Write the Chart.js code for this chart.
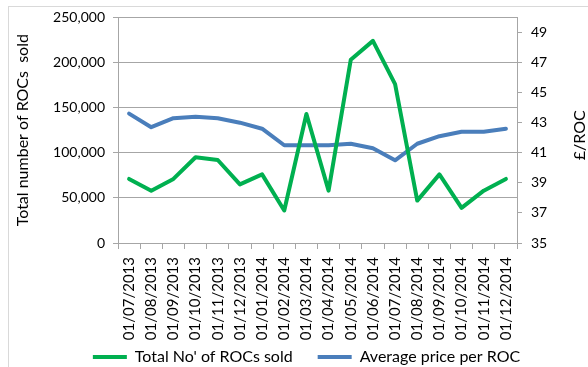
<!DOCTYPE html>
<html>
<head>
<meta charset="utf-8">
<script src="https://cdn.jsdelivr.net/npm/chart.js@4/dist/chart.umd.min.js"></script>
<style>
  html, body { margin: 0; padding: 0; background: #fff; }
  #wrap { width: 588px; height: 367px; position: relative; }
</style>
</head>
<body>
<div id="wrap"><canvas id="c" width="588" height="367"></canvas></div>
<script>
// Monthly ROC sales and average price, Jul 2013 – Dec 2014
const months = ['01/07/2013', '01/08/2013', '01/09/2013', '01/10/2013', '01/11/2013', '01/12/2013',
                '01/01/2014', '01/02/2014', '01/03/2014', '01/04/2014', '01/05/2014', '01/06/2014',
                '01/07/2014', '01/08/2014', '01/09/2014', '01/10/2014', '01/11/2014', '01/12/2014'];
const rocsSold = [71000, 58000, 71000, 95000, 92000, 65000, 76000, 36000, 143000,
                  58000, 203000, 224000, 176000, 47000, 76000, 39000, 58000, 71000];
const avgPrice = [43.6, 42.7, 43.3, 43.4, 43.3, 43.0, 42.6, 41.5, 41.5,
                  41.5, 41.6, 41.3, 40.5, 41.6, 42.1, 42.4, 42.4, 42.6];
const priceTicks = [35, 37, 39, 41, 43, 45, 47, 49];
const seriesNames = ["Total No' of ROCs sold", 'Average price per ROC'];
const leftTitle = 'Total number of ROCs  sold';
const rightTitle = '£/ROC';

const GREEN = '#00b050';
const BLUE = '#4a7ebb';
const GRID = '#a6a6a6';
const FONT = 'Lato, "Open Sans", sans-serif';

// light frame, upward-reading right axis title, and legend placement
const extras = {
  id: 'extras',
  beforeDraw(chart) {
    const ctx = chart.ctx;
    ctx.save();
    ctx.strokeStyle = '#d9d9d9';
    ctx.lineWidth = 1;
    ctx.strokeRect(8.5, 6.5, 700, 500);
    ctx.restore();
  },
  afterDraw(chart) {
    const ctx = chart.ctx;
    const a = chart.chartArea;
    ctx.save();
    ctx.translate(580, (a.top + a.bottom) / 2 + 5);
    ctx.rotate(-Math.PI / 2);
    ctx.font = '16px ' + FONT;
    ctx.fillStyle = '#000';
    ctx.textAlign = 'center';
    ctx.textBaseline = 'middle';
    ctx.fillText(rightTitle, 0, 0);
    ctx.restore();
  },
  afterInit(chart) {
    const lg = chart.legend;
    if (lg) {
      const fit = lg.fit;
      lg.fit = function () { fit.call(this); this.height = 24; };
    }
  },
  afterLayout(chart) {
    const lg = chart.legend;
    if (lg) {
      // the legend's inner padding also spaces the items; pull its box up so the row sits low
      lg.top = 357 - 25 - 8;
      lg.bottom = 367;
      lg.left += 25;
      lg.adjustHitBoxes && lg.adjustHitBoxes();
    }
  }
};

new Chart(document.getElementById('c'), {
  type: 'line',
  data: {
    labels: months,
    datasets: [
      { label: seriesNames[0], data: rocsSold, yAxisID: 'y', borderColor: GREEN, backgroundColor: GREEN,
        borderWidth: 4, pointRadius: 0, tension: 0, borderJoinStyle: 'round', borderCapStyle: 'round' },
      { label: seriesNames[1], data: avgPrice, yAxisID: 'y1', borderColor: BLUE, backgroundColor: BLUE,
        borderWidth: 4, pointRadius: 0, tension: 0, borderJoinStyle: 'round', borderCapStyle: 'round' }
    ]
  },
  options: {
    responsive: false,
    animation: false,
    devicePixelRatio: 1,
    layout: { padding: { top: 16, left: 0, right: 0, bottom: 0 } },
    plugins: {
      tooltip: { enabled: false },
      legend: {
        position: 'bottom',
        labels: {
          boxWidth: 34,
          boxHeight: 4,
          padding: 25,
          color: '#000',
          font: { family: FONT, size: 16 },
          generateLabels(chart) {
            return Chart.defaults.plugins.legend.labels.generateLabels(chart).map(l => {
              l.lineWidth = 0;
              return l;
            });
          }
        }
      }
    },
    scales: {
      x: {
        offset: true,
        grid: { display: true, drawOnChartArea: false, offset: true, tickLength: 6, color: GRID },
        border: { display: true, color: GRID },
        ticks: { minRotation: 90, maxRotation: 90, autoSkip: false, padding: 8, color: '#000',
                 font: { family: FONT, size: 15 } },
        afterFit(s) { s.height = 100; }
      },
      y: {
        position: 'left',
        min: 0, max: 250000,
        grid: { color: GRID, tickLength: 5 },
        border: { display: true, color: GRID },
        ticks: { stepSize: 50000, padding: 8, color: '#000', font: { family: FONT, size: 14 },
                 callback: v => v.toLocaleString('en-GB') },
        title: { display: true, text: leftTitle, color: '#000', font: { family: FONT, size: 16 },
                 padding: { top: 13, bottom: 0 } },
        afterFit(s) { s.width = 118; }
      },
      y1: {
        position: 'right',
        min: 35, max: 50,
        grid: { drawOnChartArea: false, color: GRID, tickLength: 5 },
        border: { display: true, color: GRID },
        ticks: { padding: 9, color: '#000', font: { family: FONT, size: 14 } },
        afterBuildTicks(s) { s.ticks = priceTicks.map(v => ({ value: v })); },
        afterFit(s) { s.width = 71; }
      }
    }
  },
  plugins: [extras]
});
</script>
</body>
</html>
